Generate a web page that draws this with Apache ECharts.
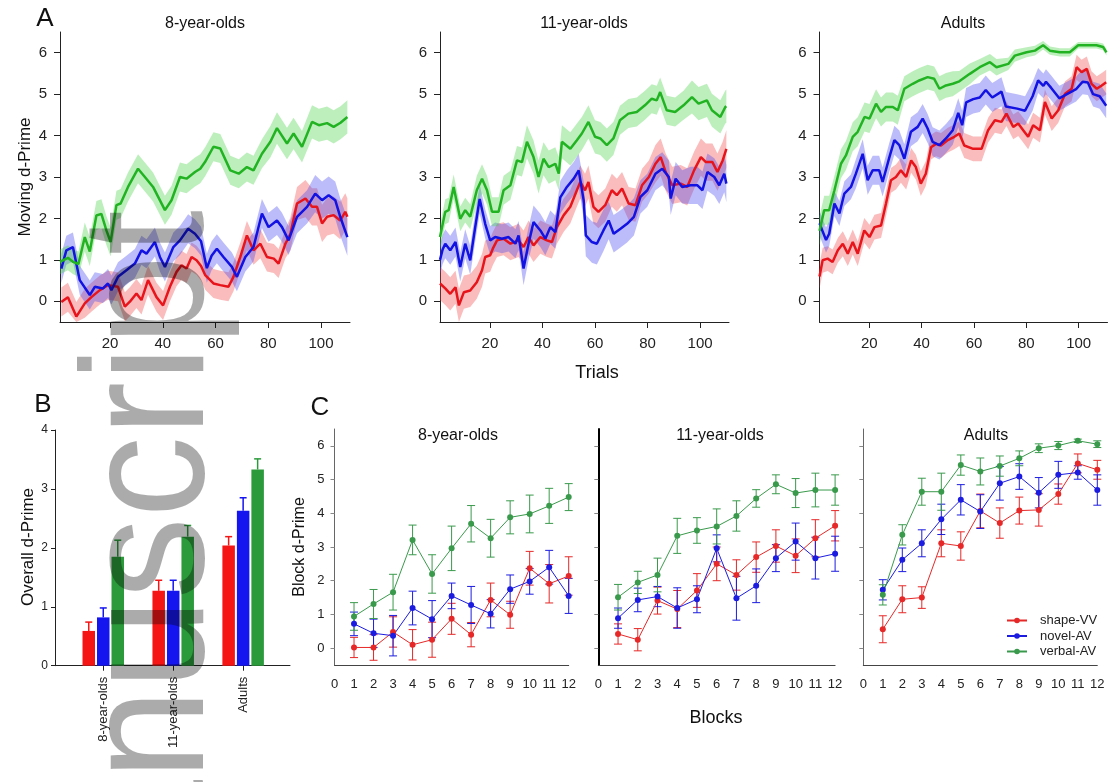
<!DOCTYPE html>
<html>
<head>
<meta charset="utf-8">
<title>Moving d-Prime, overall d-Prime and block d-Prime</title>
<script src="https://cdn.jsdelivr.net/npm/echarts@6/dist/echarts.min.js"></script>
<style>
html, body { margin: 0; padding: 0; background: #fff; }
#chart { width: 1112px; height: 782px; }
</style>
</head>
<body>
<div id="chart"></div>
<script>
// ---------- data ----------
const groupNames = ['8-year-olds', '11-year-olds', 'Adults'];
const conditions = ['shape-VV', 'novel-AV', 'verbal-AV'];
const trialTicks = [20, 40, 60, 80, 100];
const dTicks = [0, 1, 2, 3, 4, 5, 6];
const blocks = [1, 2, 3, 4, 5, 6, 7, 8, 9, 10, 11, 12];

// Panel A: [trial, moving d-prime, half width of the shaded band]
const a8Shape = [[1.5,-0.02,.35],[4,0.1,.35],[7.2,-0.37,.35],[10.4,-0.05,.35],[12.9,0.1,.35],[16.1,0.27,.35],[19.2,0.39,.35],[23,0.35,.35],[25.6,-0.13,.35],[27.5,-0.01,.35],[30,0.19,.35],[31.9,0.03,.35],[34.4,0.51,.35],[37.6,0.1,.35],[40.1,-0.1,.35],[42.7,0.35,.35],[45.2,0.71,.35],[47.1,0.87,.35],[49,0.79,.35],[50.9,1.07,.35],[52.8,0.99,.35],[54.5,0.85,.35],[56.1,0.63,.35],[59.2,0.43,.35],[61.8,0.39,.35],[64.9,0.35,.35],[66.8,0.59,.35],[69.4,1.07,.35],[71.9,1.59,.35],[74.4,1.23,.35],[77,1.39,.35],[79.5,1.07,.35],[82.1,1.03,.35],[83.9,0.91,.35],[86.5,1.39,.35],[88.4,1.63,.4],[90.9,2.36,.4],[94.1,2.48,.45],[96.6,2.28,.45],[98.5,2.28,.45],[100.4,1.88,.45],[102.3,2.04,.45],[104.8,2.08,.45],[107.3,1.95,.45],[109.2,2.16,.45],[110,2.04,.45]];
const a8Novel = [[1.5,0.79,.35],[3.4,1.23,.35],[5.9,1.31,.35],[8.5,0.51,.35],[12.3,0.15,.35],[14.2,0.35,.35],[17.3,0.31,.35],[19.2,0.43,.35],[20.5,0.27,.35],[23,0.59,.35],[26.2,0.75,.35],[29.4,0.91,.35],[31.9,1.23,.35],[33.8,1.15,.35],[37,1.43,.35],[38.9,1.07,.35],[40.8,0.83,.35],[44,1.31,.35],[46.5,1.47,.35],[49.6,1.75,.35],[52.2,1.63,.35],[54.5,1.45,.35],[56.7,0.8,.35],[58.5,1.1,.35],[60.5,1.27,.35],[63,1.07,.35],[66.2,0.83,.35],[68.1,0.59,.35],[71.3,1.07,.35],[74.4,1.31,.35],[77.6,2.12,.35],[80.1,1.79,.35],[83.3,1.95,.35],[85.2,1.79,.35],[87.7,1.47,.35],[90.9,2.04,.4],[94.7,2.28,.4],[97.8,2.6,.45],[100.4,2.44,.45],[102.9,2.56,.45],[105.4,2.44,.45],[107.3,2.04,.45],[110,1.55,.45]];
const a8Verbal = [[1,0.95,.3],[4,1.05,.3],[6,0.95,.3],[8,0.9,.3],[10.4,1.55,.35],[12.3,1.2,.35],[14.8,2.07,.35],[16.7,2.11,.35],[18.6,1.71,.35],[20.2,1.43,.35],[22.4,2.32,.35],[24,2.36,.35],[26.8,2.76,.35],[30.6,3.2,.35],[33.2,3.0,.35],[36.3,2.76,.35],[40.8,2.2,.35],[43.3,2.44,.35],[46.5,3.0,.35],[49,2.96,.35],[52.2,3.12,.35],[54.2,3.2,.35],[56,3.36,.35],[59.2,3.73,.35],[61.8,3.69,.35],[65.6,3.16,.35],[68.8,3.08,.35],[71.9,3.24,.35],[74.4,3.16,.35],[77.6,3.56,.35],[80.8,3.85,.38],[83.3,4.18,.38],[87.1,3.81,.38],[89.6,4.05,.38],[92.8,3.73,.38],[96.6,4.33,.4],[99.2,4.25,.4],[102.3,4.3,.4],[104.8,4.21,.4],[107.4,4.31,.4],[110,4.45,.4]];

const a11Shape = [[1,0.43,.4],[3,0.31,.4],[4.9,0.18,.4],[6.9,0.34,.4],[8.2,-0.1,.4],[10.1,0.22,.4],[12.5,0.26,.4],[15,0.46,.4],[17,0.75,.4],[18.2,1.07,.4],[20.1,1.11,.4],[21.1,1.27,.4],[22.7,1.47,.4],[25.2,1.51,.4],[27.8,1.39,.4],[30.9,1.47,.4],[32.8,1.31,.4],[34.7,1.55,.4],[36.6,1.35,.4],[39.2,1.55,.4],[41.7,1.47,.4],[43.6,1.43,.4],[45.5,1.79,.4],[48.1,2.08,.4],[50.6,2.28,.4],[53.1,2.68,.4],[54.4,2.88,.4],[56.2,2.68,.4],[57.5,2.88,.4],[59.4,2.28,.4],[61.3,2.16,.4],[63.9,2.32,.4],[66.4,2.68,.4],[68.3,2.56,.4],[70.3,2.72,.4],[72.8,2.36,.4],[75.4,2.32,.4],[77.9,2.8,.4],[80.5,3.0,.4],[83,3.32,.45],[85,3.48,.45],[86.9,3.12,.45],[89.4,2.8,.45],[92.6,2.84,.45],[95.1,2.76,.45],[97.7,3.16,.45],[100.3,3.48,.45],[102.2,3.36,.45],[104.7,3.36,.45],[106.6,3.12,.45],[108.6,3.4,.45],[110,3.68,.45]];
const a11Novel = [[1,1.0,.35],[2,1.25,.35],[3,1.39,.35],[4.9,1.23,.35],[6.9,1.43,.35],[8.7,0.83,.35],[10.6,1.39,.35],[12.5,0.99,.35],[14.4,1.79,.35],[16.1,2.47,.35],[18.2,1.87,.35],[20.1,1.47,.35],[22,1.55,.35],[24.6,1.51,.35],[27.1,1.55,.35],[29.7,1.39,.35],[30.9,1.59,.35],[32.8,0.79,.4],[34.7,1.39,.4],[36.6,1.91,.4],[39.2,1.71,.4],[41.1,1.51,.4],[43,1.79,.4],[44.9,1.67,.4],[46.8,2.51,.4],[49.3,2.76,.4],[51.9,2.96,.4],[53.8,3.16,.4],[55.7,2.43,.45],[56.5,1.59,.5],[58.8,1.43,.5],[60.7,1.39,.5],[63.2,1.71,.5],[65.2,1.95,.45],[67.1,1.63,.45],[69.7,1.75,.45],[72.2,1.87,.45],[74.8,2.04,.45],[77.3,2.52,.4],[79.9,2.68,.4],[83,3.08,.4],[85.6,3.2,.4],[88.1,3.0,.4],[88.8,2.48,.4],[90.7,2.96,.4],[93.2,2.76,.4],[96.4,2.8,.45],[99,2.8,.45],[100.9,2.68,.45],[102.8,3.12,.45],[105.4,3.0,.45],[107.3,2.8,.45],[109.2,3.08,.45],[110,2.84,.45]];
const a11Verbal = [[1,1.55,.3],[3,2.16,.3],[4.3,2.2,.3],[6.2,2.76,.3],[8.7,1.99,.3],[10.6,2.2,.3],[12.5,2.04,.3],[15,2.68,.35],[17,2.96,.35],[18.9,2.68,.35],[20.8,2.16,.35],[23.3,2.16,.35],[25.2,2.68,.35],[27.8,2.8,.35],[30.3,3.4,.35],[32.2,3.36,.35],[34.1,3.85,.4],[36.6,3.48,.4],[38.5,3.0,.4],[40.4,3.44,.4],[42.4,3.24,.4],[44.9,3.32,.4],[46.2,3.08,.4],[47.4,3.85,.4],[50.6,3.68,.4],[53.1,3.89,.4],[55,4.05,.4],[57.5,4.33,.4],[60,3.97,.4],[62,3.93,.4],[64.5,3.77,.4],[67,3.93,.4],[69.5,4.37,.35],[72.7,4.53,.35],[75.9,4.57,.35],[79,4.73,.35],[81.6,4.89,.35],[83.5,4.85,.35],[84.8,5.05,.35],[87.3,4.61,.35],[90.5,4.57,.35],[93.7,4.73,.35],[96.9,4.93,.4],[99.4,4.77,.4],[102.6,4.85,.4],[104.5,4.61,.4],[107.7,4.45,.4],[109.6,4.69,.4],[110,4.71,.4]];

const aAdShape = [[1,0.6,.3],[2.2,0.99,.3],[4.1,1.03,.3],[6,0.95,.3],[8,1.23,.3],[9.9,1.39,.3],[11.8,1.15,.3],[13.7,1.43,.3],[15.6,1.15,.3],[18.1,1.71,.3],[20.1,1.55,.3],[22,1.79,.3],[24.5,1.83,.3],[26.4,2.36,.3],[28.3,2.92,.3],[30.2,3.0,.3],[32.1,3.16,.3],[34.1,3.0,.3],[36,3.4,.3],[37.8,3.24,.3],[39.7,2.84,.3],[41.6,3.08,.3],[43.6,3.72,.3],[45.5,3.8,.3],[47.4,3.76,.3],[50,3.89,.3],[52.5,3.97,.3],[54.4,4.05,.3],[56.3,3.76,.3],[59.7,3.68,.3],[62.9,3.68,.3],[65.4,4.13,.3],[68,4.37,.3],[70.5,4.33,.3],[72.4,4.53,.3],[75,4.21,.3],[76.9,4.29,.3],[78.8,4.13,.3],[80.7,3.97,.3],[82.6,4.25,.3],[85.2,4.13,.3],[87.1,4.81,.3],[89.7,4.41,.3],[92.2,4.61,.3],[94.8,5.01,.3],[97.3,5.13,.3],[99.2,5.65,.3],[101.1,5.53,.3],[103.1,5.61,.3],[104.9,5.25,.3],[106.9,5.13,.3],[108.8,5.21,.3],[110.5,5.29,.3]];
const aAdNovel = [[1,1.88,.3],[3.5,1.48,.3],[4.7,1.63,.3],[6.7,2.36,.3],[8.6,2.12,.3],[10.5,2.6,.3],[13,2.76,.3],[14.9,3.08,.35],[17.5,3.56,.35],[19.4,2.92,.35],[21.3,3.16,.35],[23.8,3.16,.35],[25.1,2.88,.35],[27.7,3.48,.35],[29.6,3.89,.35],[31.5,3.77,.35],[33.4,3.44,.35],[35.9,4.09,.35],[38.5,4.21,.35],[40.4,4.41,.35],[42.3,4.17,.35],[44.2,3.85,.35],[46.8,3.77,.35],[49.3,3.93,.35],[51.9,4.13,.35],[54,4.55,.35],[55.5,4.25,.35],[57,4.8,.35],[59.7,4.88,.35],[62.2,4.92,.35],[64.5,5.1,.35],[67,4.92,.35],[70.5,5.06,.35],[72.2,4.7,.35],[76.5,4.65,.35],[79.5,4.6,.35],[82.4,4.95,.35],[84.5,5.33,.3],[86.5,5.2,.3],[87.5,5.3,.3],[89.5,5.15,.3],[92.6,4.9,.3],[95.5,5.0,.3],[99,5.12,.3],[101.5,5.3,.3],[103.5,5.28,.3],[105.5,5.0,.3],[108,4.95,.3],[110.5,4.72,.3]];
const aAdVerbal = [[1,1.7,.35],[2.8,2.2,.35],[4.7,2.2,.35],[6.7,2.68,.35],[9.2,3.32,.35],[11.1,3.52,.35],[13.7,3.97,.35],[15.6,4.09,.35],[18.2,4.45,.35],[20.1,4.41,.35],[22.6,4.77,.35],[24.5,4.57,.35],[26.4,4.69,.35],[29,4.69,.35],[30.9,4.61,.35],[33.4,5.13,.3],[36.6,5.25,.3],[39.1,5.33,.3],[42.3,5.41,.3],[44.8,5.37,.3],[46.8,5.13,.3],[49.3,5.21,.3],[51.9,5.25,.3],[54.4,5.31,.25],[58.4,5.49,.25],[62.2,5.65,.2],[66.1,5.77,.2],[68.6,5.65,.2],[73.1,5.73,.15],[75.6,5.93,.15],[80.1,6.01,.12],[83.3,6.05,.12],[86.4,6.18,.1],[89,6.05,.1],[92.8,6.01,.1],[96.6,6.01,.1],[99.8,6.18,.08],[103,6.18,.08],[106.8,6.18,.08],[109.3,6.14,.08],[110.6,6.01,.08]];

// Panel B: overall d-prime per group, with upper error bar
const bShapeMean = [0.59, 1.27, 2.04];
const bShapeErr = [0.15, 0.18, 0.15];
const bNovelMean = [0.82, 1.27, 2.63];
const bNovelErr = [0.16, 0.18, 0.22];
const bVerbalMean = [1.85, 2.19, 3.33];
const bVerbalErr = [0.28, 0.19, 0.18];

// Panel C: block d-prime, mean and error per block
const c8ShapeMean = [0.02, 0.02, 0.48, 0.1, 0.25, 0.87, 0.4, 1.43, 0.99, 2.37, 1.91, 2.14];
const c8ShapeErr = [0.3, 0.38, 0.45, 0.45, 0.52, 0.46, 0.36, 0.5, 0.4, 0.5, 0.57, 0.57];
const c8NovelMean = [0.72, 0.44, 0.37, 1.19, 0.86, 1.55, 1.28, 1.02, 1.75, 1.98, 2.4, 1.55];
const c8NovelErr = [0.35, 0.42, 0.6, 0.5, 0.55, 0.38, 0.55, 0.42, 0.42, 0.38, 0.5, 0.52];
const c8VerbalMean = [0.94, 1.31, 1.66, 3.21, 2.2, 2.96, 3.69, 3.26, 3.88, 3.98, 4.22, 4.48];
const c8VerbalErr = [0.41, 0.43, 0.53, 0.44, 0.57, 0.66, 0.54, 0.56, 0.49, 0.56, 0.52, 0.4];

const c11ShapeMean = [0.42, 0.25, 1.41, 1.16, 1.71, 2.5, 2.17, 2.7, 3.03, 2.74, 3.26, 3.63];
const c11ShapeErr = [0.3, 0.33, 0.4, 0.55, 0.5, 0.5, 0.45, 0.45, 0.48, 0.5, 0.55, 0.45];
const c11NovelMean = [0.89, 1.43, 1.53, 1.19, 1.45, 2.96, 1.48, 1.85, 2.67, 3.16, 2.67, 2.8];
const c11NovelErr = [0.3, 0.35, 0.3, 0.6, 0.4, 0.4, 0.65, 0.5, 0.4, 0.55, 0.62, 0.52];
const c11VerbalMean = [1.51, 1.95, 2.17, 3.33, 3.49, 3.61, 3.92, 4.44, 4.86, 4.6, 4.69, 4.69];
const c11VerbalErr = [0.38, 0.33, 0.5, 0.52, 0.38, 0.52, 0.45, 0.26, 0.28, 0.43, 0.5, 0.45];

const cAdShapeMean = [0.56, 1.45, 1.5, 3.11, 3.03, 4.07, 3.71, 4.08, 4.1, 4.57, 5.48, 5.29];
const cAdShapeErr = [0.4, 0.4, 0.32, 0.4, 0.42, 0.5, 0.45, 0.4, 0.48, 0.3, 0.28, 0.28];
const cAdNovelMean = [1.73, 2.62, 3.11, 3.82, 4.4, 4.05, 4.89, 5.09, 4.61, 5.14, 5.21, 4.69];
const cAdNovelErr = [0.3, 0.35, 0.4, 0.45, 0.45, 0.5, 0.5, 0.38, 0.45, 0.4, 0.2, 0.45];
const cAdVerbalMean = [1.58, 3.36, 4.64, 4.64, 5.43, 5.24, 5.4, 5.63, 5.93, 6.01, 6.15, 6.05];
const cAdVerbalErr = [0.3, 0.3, 0.4, 0.55, 0.3, 0.4, 0.3, 0.22, 0.13, 0.12, 0.05, 0.1];

// ---------- styling ----------
const FONT = '"Liberation Sans", Arial, Helvetica, sans-serif';
const INK = '#222';
const aLine = ['#e8141c', '#1212e2', '#22b322'];
const aBand = ['rgba(240,70,70,0.36)', 'rgba(70,70,240,0.36)', 'rgba(70,210,70,0.36)'];
const bColor = ['#f51515', '#1515f0', '#2a9a3a'];
const cColor = ['#e62828', '#1c1ce0', '#3a9a4c'];

const aSets = [[a8Shape, a8Novel, a8Verbal], [a11Shape, a11Novel, a11Verbal], [aAdShape, aAdNovel, aAdVerbal]];
const bSets = [[bShapeMean, bShapeErr], [bNovelMean, bNovelErr], [bVerbalMean, bVerbalErr]];
const cSets = [
  [[c8ShapeMean, c8ShapeErr], [c8NovelMean, c8NovelErr], [c8VerbalMean, c8VerbalErr]],
  [[c11ShapeMean, c11ShapeErr], [c11NovelMean, c11NovelErr], [c11VerbalMean, c11VerbalErr]],
  [[cAdShapeMean, cAdShapeErr], [cAdNovelMean, cAdNovelErr], [cAdVerbalMean, cAdVerbalErr]]
];

const chart = echarts.init(document.getElementById('chart'), null, { renderer: 'canvas' });

const grids = [
  { left: 60, top: 32, width: 290, height: 290 },
  { left: 440, top: 32, width: 289, height: 290 },
  { left: 819.5, top: 32, width: 288, height: 290 },
  { left: 55, top: 430, width: 235, height: 235.7 },
  { left: 334.5, top: 429, width: 234.2, height: 236 },
  { left: 598.3, top: 429, width: 236.8, height: 236 },
  { left: 863.3, top: 429, width: 234, height: 236 }
];

const labelBase = { fontFamily: FONT, color: INK };

const xAxes = [];
const yAxes = [];
for (let i = 0; i < 3; i++) {
  xAxes.push({
    gridIndex: i, type: 'value', min: 1, max: 111,
    axisLine: { show: true, onZero: false, lineStyle: { color: INK } },
    axisTick: { show: true, customValues: trialTicks, length: 6, lineStyle: { color: INK } },
    axisLabel: { ...labelBase, customValues: trialTicks, fontSize: 15, margin: 14 },
    splitLine: { show: false }
  });
  yAxes.push({
    gridIndex: i, type: 'value', min: -0.5, max: 6.5,
    axisLine: { show: true, onZero: false, lineStyle: { color: INK } },
    axisTick: { show: true, customValues: dTicks, length: 6, lineStyle: { color: INK } },
    axisLabel: { ...labelBase, customValues: dTicks, fontSize: 15, margin: 13 },
    splitLine: { show: false }
  });
}
// panel B: value axis so that the axis line runs past the three groups
xAxes.push({
  gridIndex: 3, type: 'value', min: 0.31, max: 3.67,
  axisLine: { show: true, onZero: false, lineStyle: { color: INK } },
  axisTick: { show: true, customValues: [1, 2, 3], length: 5, lineStyle: { color: INK } },
  axisLabel: { ...labelBase, customValues: [1, 2, 3], rotate: 90, fontSize: 13, margin: 11,
    formatter: v => groupNames[Math.round(v) - 1] },
  splitLine: { show: false }
});
yAxes.push({
  gridIndex: 3, type: 'value', min: 0, max: 4, interval: 1,
  axisLine: { show: true, onZero: false, lineStyle: { color: INK } },
  axisTick: { show: true, length: 4, lineStyle: { color: INK } },
  axisLabel: { ...labelBase, fontSize: 12, margin: 7 },
  splitLine: { show: false }
});
for (let i = 4; i < 7; i++) {
  xAxes.push({
    gridIndex: i, type: 'value', min: 0, max: 12, interval: 1,
    axisLine: { show: true, onZero: false, lineStyle: { color: '#444' } },
    axisTick: { show: false },
    axisLabel: { ...labelBase, fontSize: 13, margin: 13 },
    splitLine: { show: false }
  });
  yAxes.push({
    gridIndex: i, type: 'value', min: -0.5, max: 6.5,
    axisLine: { show: true, onZero: false,
      lineStyle: { color: i === 5 ? '#000' : '#666', width: i === 5 ? 2 : 1 } },
    axisTick: { show: true, customValues: dTicks, length: 4, lineStyle: { color: '#888' } },
    axisLabel: { ...labelBase, show: i === 4, customValues: dTicks, fontSize: 13, margin: 10 },
    splitLine: { show: false }
  });
}

const series = [];

// Panel A: shaded bands first, then the lines
aSets.forEach((set, gi) => {
  set.forEach((pts, ci) => {
    series.push({
      type: 'custom', xAxisIndex: gi, yAxisIndex: gi, silent: true, clip: true, z: 1,
      data: [[pts[0][0], pts[0][1]]],
      encode: { x: 0, y: 1 },
      renderItem: (params, api) => {
        const up = pts.map(p => api.coord([p[0], Math.min(p[1] + p[2], 6.5)]));
        const lo = pts.map(p => api.coord([p[0], Math.max(p[1] - p[2], -0.5)])).reverse();
        return { type: 'polygon', shape: { points: up.concat(lo) }, style: { fill: aBand[ci] } };
      }
    });
  });
});
aSets.forEach((set, gi) => {
  set.forEach((pts, ci) => {
    series.push({
      type: 'line', xAxisIndex: gi, yAxisIndex: gi, silent: true, z: 3,
      data: pts.map(p => [p[0], p[1]]),
      showSymbol: false, symbol: 'none',
      lineStyle: { color: aLine[ci], width: 2.5 }
    });
  });
});

// Panel B: grouped bars with upper error bars
const barOffset = [-14.5, 0, 14.5];
bSets.forEach((pair, ci) => {
  series.push({
    type: 'custom', xAxisIndex: 3, yAxisIndex: 3, silent: true, z: 3,
    data: pair[0].map((m, k) => [k + 1, m, pair[1][k]]),
    encode: { x: 0, y: 1 },
    renderItem: (params, api) => {
      const x = api.value(0), m = api.value(1), e = api.value(2);
      const base = api.coord([x, 0]);
      const top = api.coord([x, m]);
      const whisk = api.coord([x, m + e]);
      const cx = base[0] + barOffset[ci];
      const st = { stroke: bColor[ci], lineWidth: 1.5 };
      return {
        type: 'group',
        children: [
          { type: 'rect', shape: { x: cx - 6.25, y: top[1], width: 12.5, height: base[1] - top[1] },
            style: { fill: bColor[ci] } },
          { type: 'line', shape: { x1: cx, y1: top[1], x2: cx, y2: whisk[1] }, style: st },
          { type: 'line', shape: { x1: cx - 3.5, y1: whisk[1], x2: cx + 3.5, y2: whisk[1] }, style: st }
        ]
      };
    }
  });
});

// Panel C: block lines with symmetric error bars
cSets.forEach((set, gi) => {
  const ax = 4 + gi;
  set.forEach((pair, ci) => {
    series.push({
      type: 'custom', xAxisIndex: ax, yAxisIndex: ax, silent: true, z: 2,
      data: blocks.map((b, k) => [b, pair[0][k], pair[1][k]]),
      encode: { x: 0, y: 1 },
      renderItem: (params, api) => {
        const x = api.value(0), m = api.value(1), e = api.value(2);
        const p1 = api.coord([x, m + e]);
        const p2 = api.coord([x, m - e]);
        const st = { stroke: cColor[ci], lineWidth: 1 };
        return {
          type: 'group',
          children: [
            { type: 'line', shape: { x1: p1[0], y1: p1[1], x2: p2[0], y2: p2[1] }, style: st },
            { type: 'line', shape: { x1: p1[0] - 4, y1: p1[1], x2: p1[0] + 4, y2: p1[1] }, style: st },
            { type: 'line', shape: { x1: p2[0] - 4, y1: p2[1], x2: p2[0] + 4, y2: p2[1] }, style: st }
          ]
        };
      }
    });
    series.push({
      name: conditions[ci], type: 'line', xAxisIndex: ax, yAxisIndex: ax, silent: true, z: 3,
      data: blocks.map((b, k) => [b, pair[0][k]]),
      symbol: 'circle', symbolSize: 6, showSymbol: true,
      lineStyle: { color: cColor[ci], width: 1 },
      itemStyle: { color: cColor[ci] }
    });
  });
});

function txt(text, x, y, size, opts) {
  return Object.assign({
    type: 'text', x: x, y: y, silent: true, z: 50,
    style: { text: text, fontSize: size, fontFamily: FONT, fill: '#111',
      align: 'center', verticalAlign: 'middle' }
  }, opts || {});
}

const graphics = [
  txt('A', 45, 19, 26),
  txt('B', 43, 405, 26),
  txt('C', 320, 408, 26),
  txt('8-year-olds', 205, 24, 16),
  txt('11-year-olds', 584, 24, 16),
  txt('Adults', 963, 24, 16),
  txt('8-year-olds', 458, 436, 16),
  txt('11-year-olds', 720, 436, 16),
  txt('Adults', 986, 436, 16),
  txt('Moving d-Prime', 25, 177, 17, { rotation: Math.PI / 2 }),
  txt('Trials', 597, 373, 18),
  txt('Overall d-Prime', 28, 547, 17, { rotation: Math.PI / 2 }),
  txt('Block d-Prime', 300, 547, 16, { rotation: Math.PI / 2 }),
  txt('Blocks', 716, 718, 18),
  // repository watermark running up the left side
  {
    type: 'text', x: 155, y: 210, rotation: Math.PI / 2, scaleX: 0.93, silent: true, z: 100,
    style: { text: 'Author Manuscript', fontSize: 175, fontFamily: FONT,
      fill: 'rgba(0,0,0,0.33)', align: 'right', verticalAlign: 'middle' }
  }
];

chart.setOption({
  backgroundColor: '#fff',
  animation: false,
  textStyle: { fontFamily: FONT },
  grid: grids,
  xAxis: xAxes,
  yAxis: yAxes,
  legend: {
    data: conditions, orient: 'vertical', left: 1001, top: 609,
    itemWidth: 20, itemHeight: 7, itemGap: 2.5, selectedMode: false,
    textStyle: { fontFamily: FONT, fontSize: 13, color: INK, padding: [0, 0, 0, 8] }
  },
  series: series,
  graphic: graphics
});
</script>
</body>
</html>
